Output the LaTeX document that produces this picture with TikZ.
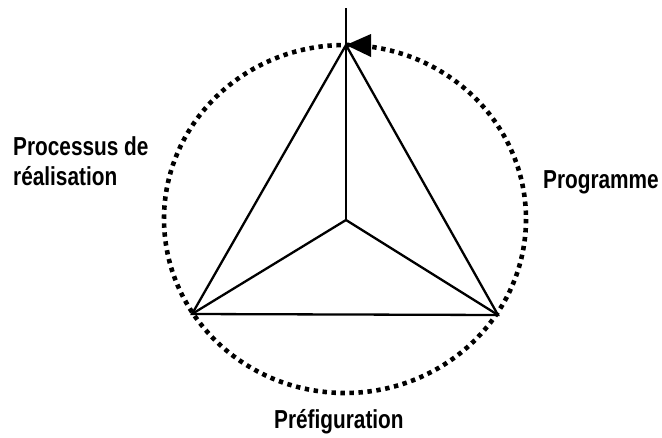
\documentclass[tikz,border=0pt]{standalone}
\usepackage{fontspec}
\setmainfont{Liberation Sans}
\newfontfamily\lblfont[FakeStretch=0.8]{Liberation Sans}
\tikzset{
  edge/.style={line width=2.3pt, line join=miter},
  ring/.style={line width=4.6pt, dash pattern=on 4.4pt off 4.6pt},
  lbl/.style={font=\lblfont\bfseries\fontsize{26}{30}\selectfont, inner sep=0pt, anchor=base west, align=left}
}
\begin{document}
\begin{tikzpicture}[x=1pt,y=-1pt]
\useasboundingbox (0,0) rectangle (662,437);
\coordinate (C) at (346,220);
\coordinate (T) at (346,45);
\coordinate (L) at (192,314);
\coordinate (R) at (498,315);
\coordinate (Top) at (346,8);
\draw[ring] (345,219) ellipse [x radius=181, y radius=174];
\draw[edge] (T) -- (L) -- (R) -- cycle;
\draw[edge] (Top) -- (C);
\draw[edge] (L) -- (C) -- (R);
\fill (346,45) -- (371,34) -- (371,57) -- cycle;
\node[lbl] (proc) at (13,185) {Processus de\\réalisation};
\node[lbl] (prog) at (543,188) {Programme};
\node[lbl] (pref) at (274,428) {Préfiguration};
\end{tikzpicture}
\end{document}
